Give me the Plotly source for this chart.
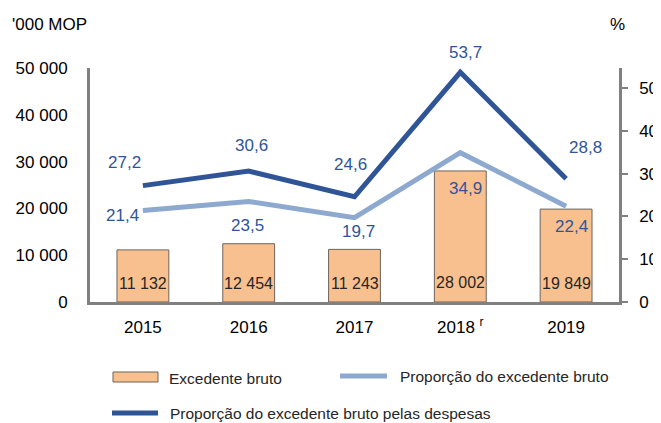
import plotly.graph_objects as go

years = ["2015", "2016", "2017", "2018", "2019"]
year_labels = ["2015", "2016", "2017", "2018 <sup>r</sup>", "2019"]
surplus = [11132, 12454, 11243, 28002, 19849]
surplus_text = ["11 132", "12 454", "11 243", "28 002", "19 849"]
share = [21.4, 23.5, 19.7, 34.9, 22.4]
share_exp = [27.2, 30.6, 24.6, 53.7, 28.8]
names = [
    "Excedente bruto",
    "Proporção do excedente bruto",
    "Proporção do excedente bruto pelas despesas",
]

FONT = "Liberation Sans, Arial"
BAR = "#F9C08F"
LIGHT = "#8EA9CF"
DARK = "#2F5597"
AXIS = "#808080"

# the page body adds an 8px offset, so the figure is laid out 8px up/left
OFF = 8
W, H = 661 - OFF, 423 - OFF
L, T = 90 - OFF, 68 - OFF
R, B = W - (619 - OFF), H - (302 - OFF)


def px(x):
    return (x - OFF - L) / (W - L - R)


def py(y):
    return (H - B - (y - OFF)) / (H - T - B)


fig = go.Figure()
fig.add_trace(go.Bar(x=years, y=surplus, name=names[0], marker=dict(color=BAR, line=dict(color="#6E6259", width=1)),
                     width=0.49, yaxis="y"))
fig.add_trace(go.Scatter(x=years, y=share, name=names[1], mode="lines", line=dict(color=LIGHT, width=5), yaxis="y2"))
fig.add_trace(go.Scatter(x=years, y=share_exp, name=names[2], mode="lines", line=dict(color=DARK, width=5), yaxis="y2"))

ann = []
# bar values near base
for i, (v, t) in enumerate(zip(surplus, surplus_text)):
    ann.append(dict(x=i, y=0, xref="x", yref="y", text=t, showarrow=False, yanchor="middle",
                    yshift=19 if v < 20000 else 20, font=dict(size=16, color="#262626")))
# line labels
dark_off = [(-18, 23), (3, 26), (-4, 32), (5, 20), (19, 31)]
light_off = [(-20, -5), (-1, -24), (4, -14), (5, -36), (5, -20)]
for i, (v, (dx, dy)) in enumerate(zip(share_exp, dark_off)):
    ann.append(dict(x=i, y=v, xref="x", yref="y2", text=f"{v:.1f}".replace(".", ","), showarrow=False,
                    yanchor="middle", xshift=dx, yshift=dy, font=dict(size=17, color=DARK)))
for i, (v, (dx, dy)) in enumerate(zip(share, light_off)):
    ann.append(dict(x=i, y=v, xref="x", yref="y2", text=f"{v:.1f}".replace(".", ","), showarrow=False,
                    yanchor="middle", xshift=dx, yshift=dy, font=dict(size=17, color=DARK)))
# axis titles
ann.append(dict(x=px(10), y=py(24), xref="paper", yref="paper", text="'000 MOP", showarrow=False,
                xanchor="left", yanchor="middle", font=dict(size=17, color="#000")))
ann.append(dict(x=px(617), y=py(24), xref="paper", yref="paper", text="%", showarrow=False,
                xanchor="center", yanchor="middle", font=dict(size=17, color="#000")))

# legend drawn manually
shapes = [
    dict(type="rect", xref="paper", yref="paper", x0=px(113), x1=px(158), y0=py(382), y1=py(372),
         fillcolor=BAR, line=dict(color="#6E6259", width=1)),
    dict(type="line", xref="paper", yref="paper", x0=px(340), x1=px(387), y0=py(376), y1=py(376),
         line=dict(color=LIGHT, width=5)),
    dict(type="line", xref="paper", yref="paper", x0=px(112), x1=px(158), y0=py(413), y1=py(413),
         line=dict(color=DARK, width=5)),
]
for (x, y), n in zip([(167, 378), (398, 376), (168, 413)], names):
    ann.append(dict(x=px(x), y=py(y), xref="paper", yref="paper", text=n, showarrow=False, xanchor="left",
                    yanchor="middle", font=dict(size=15.5, color="#262626")))

fig.update_layout(
    width=W,
    height=H,
    margin=dict(l=L, r=R, t=T, b=B, autoexpand=False),
    paper_bgcolor="white",
    plot_bgcolor="white",
    showlegend=False,
    font=dict(family=FONT, size=17, color="#000"),
    annotations=ann,
    shapes=shapes,
    xaxis=dict(
        type="category",
        tickvals=years,
        ticktext=year_labels,
        showline=True,
        linecolor=AXIS,
        linewidth=2.5,
        ticks="",
        automargin=False,
        ticklabelstandoff=8,
        tickfont=dict(size=17, color="#000"),
        range=[-0.5, 4.5],
    ),
    yaxis=dict(
        range=[0, 50000],
        tickvals=[0, 10000, 20000, 30000, 40000, 50000],
        ticktext=["0", "10 000", "20 000", "30 000", "40 000", "50 000"],
        showline=True,
        linecolor=AXIS,
        linewidth=3,
        showgrid=False,
        zeroline=False,
        ticks="",
        automargin=False,
        ticklabelstandoff=16,
        tickfont=dict(size=17, color="#000"),
    ),
    yaxis2=dict(
        overlaying="y",
        side="right",
        range=[0, 54.7],
        tickvals=[0, 10, 20, 30, 40, 50],
        showline=True,
        linecolor=AXIS,
        linewidth=2.5,
        showgrid=False,
        zeroline=False,
        ticks="outside",
        ticklen=6,
        tickwidth=1.5,
        tickcolor=AXIS,
        automargin=False,
        ticklabelstandoff=8,
        tickfont=dict(size=17, color="#000"),
    ),
)

fig.write_html("out.html")
